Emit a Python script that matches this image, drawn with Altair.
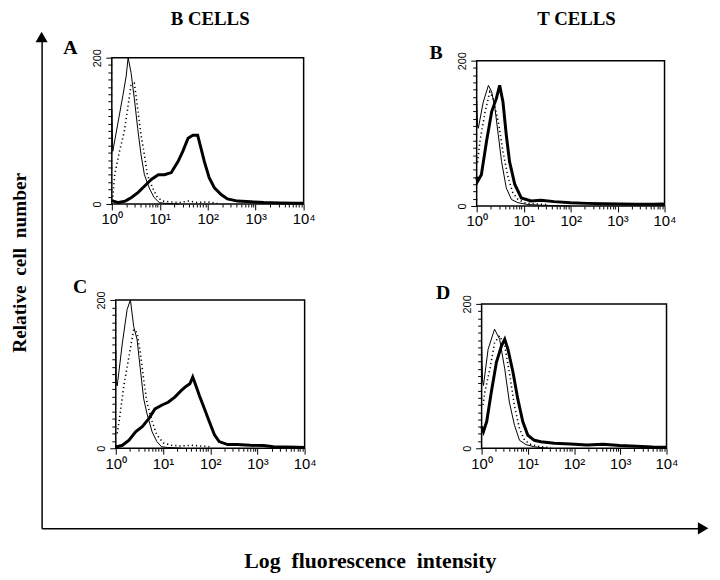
import altair as alt
import pandas as pd

# ---------------- data: x = log10 fluorescence, y = cell count ----------------
# Panel A (B cells)
A_thin_x = [0.0, 0.02, 0.12, 0.23, 0.30, 0.34, 0.40, 0.47, 0.54, 0.61, 0.68, 0.78, 0.88, 0.99, 1.10, 1.40]
A_thin_y = [128, 72, 108, 148, 175, 200, 180, 144, 103, 67, 40, 22, 9, 2, 1, 0]
A_dot_x = [0.02, 0.06, 0.16, 0.26, 0.33, 0.40, 0.47, 0.54, 0.61, 0.68, 0.74, 0.85, 0.95, 1.06, 1.20, 1.40, 1.60, 1.80, 2.00, 2.20]
A_dot_y = [10, 40, 72, 99, 130, 162, 165, 130, 94, 67, 40, 22, 9, 4, 3, 2, 4, 2, 3, 1]
A_thick_x = [0.0, 0.03, 0.14, 0.28, 0.41, 0.55, 0.69, 0.83, 0.97, 1.10, 1.24, 1.38, 1.48, 1.59, 1.69, 1.79, 1.86, 1.93, 2.03, 2.14, 2.28, 2.41, 2.62, 2.90, 3.17, 3.50, 3.86, 4.0]
A_thick_y = [5, 4, 2, 4, 9, 16, 25, 34, 40, 40, 43, 58, 72, 90, 94, 94, 76, 58, 36, 22, 13, 7, 4, 3, 2, 1.5, 1, 1]

# Panel B (T cells)
B_thin_x = [0.0, 0.02, 0.035, 0.14, 0.25, 0.32, 0.39, 0.46, 0.53, 0.63, 0.74, 0.88, 1.09, 1.40, 2.00]
B_thin_y = [145, 110, 107, 143, 166, 157, 134, 98, 61, 25, 9, 4.5, 2, 1, 0]
B_dot_x = [0.02, 0.07, 0.18, 0.28, 0.35, 0.46, 0.56, 0.67, 0.77, 0.88, 1.02, 1.20, 1.50]
B_dot_y = [60, 89, 130, 157, 148, 116, 75, 39, 18, 9, 4.5, 3, 2]
B_thick_x = [0.0, 0.02, 0.10, 0.21, 0.32, 0.42, 0.49, 0.56, 0.63, 0.70, 0.81, 0.95, 1.16, 1.37, 1.65, 2.00, 2.35, 2.70, 3.05, 3.40, 3.75, 3.96, 4.0]
B_thick_y = [40, 34, 43, 89, 130, 148, 166, 143, 98, 61, 30, 11, 7, 8, 6, 4.5, 3.6, 3, 2.7, 2.5, 2.3, 2.7, 2]

# Panel C (B cells)
C_thin_x = [0.0, 0.01, 0.03, 0.14, 0.24, 0.31, 0.38, 0.45, 0.52, 0.59, 0.66, 0.77, 0.87, 0.97, 1.10, 1.40]
C_thin_y = [133, 90, 84, 142, 187, 200, 164, 147, 107, 67, 47, 22, 9, 2, 1, 0]
C_dot_x = [0.03, 0.07, 0.17, 0.28, 0.38, 0.45, 0.52, 0.59, 0.66, 0.77, 0.87, 1.01, 1.18, 1.40, 1.60, 1.80, 2.00]
C_dot_y = [20, 36, 84, 124, 160, 156, 129, 93, 62, 36, 18, 7, 4, 3, 4, 3, 2]
C_thick_x = [0.0, 0.03, 0.14, 0.28, 0.42, 0.56, 0.70, 0.83, 0.97, 1.11, 1.25, 1.39, 1.50, 1.57, 1.63, 1.70, 1.77, 1.88, 1.98, 2.09, 2.19, 2.37, 2.57, 2.85, 3.13, 3.34, 3.83, 4.0]
C_thick_y = [3, 2, 4, 11, 22, 29, 40, 53, 58, 62, 69, 78, 84, 87, 96, 84, 71, 53, 36, 18, 9, 5, 5, 4, 3.6, 2, 1.3, 1]

# Panel D (T cells)
D_thin_x = [0.0, 0.02, 0.04, 0.14, 0.28, 0.39, 0.50, 0.60, 0.71, 0.82, 0.96, 1.14, 1.40]
D_thin_y = [142, 95, 87, 137, 165, 151, 110, 64, 32, 11, 5, 2, 0]
D_dot_x = [0.03, 0.07, 0.18, 0.28, 0.39, 0.50, 0.60, 0.71, 0.82, 0.93, 1.07, 1.28, 1.50]
D_dot_y = [60, 78, 110, 146, 156, 142, 105, 59, 27, 11, 5, 2, 1]
D_thick_x = [0.0, 0.04, 0.11, 0.21, 0.32, 0.43, 0.50, 0.57, 0.68, 0.78, 0.89, 1.00, 1.14, 1.28, 1.57, 1.92, 2.28, 2.63, 2.99, 3.35, 3.70, 4.0]
D_thick_y = [30, 23, 37, 78, 119, 142, 151, 137, 105, 69, 37, 18, 11, 9, 7, 6, 4.5, 5.5, 3.7, 2.7, 1.8, 1.5]

NB2 = "\u00a0\u00a0"
COL_TITLES = ["B CELLS", "T CELLS"]
PANEL_LETTERS = ["A", "B", "C", "D"]
X_TITLE = "Log" + NB2 + "fluorescence" + NB2 + "intensity"
Y_TITLE = "Relative" + NB2 + "cell" + NB2 + "number"

# ---------------- layout / style ----------------
W, H = 712, 572
SERIF = "Liberation Serif"
SANS = "Liberation Sans"

X_TICKS = [m * 10 ** k for k in range(4) for m in range(1, 10)] + [10000]
Y_TICKS = list(range(0, 201, 10))
DEC_LIST = "[1,10,100,1000,10000]"
DEC_TEST = f"indexof({DEC_LIST}, datum.value) >= 0"
X_LABEL_EXPR = (f"{DEC_TEST} ? '10' + ['\u2070','\u00b9','\u00b2','\u00b3','\u2074']"
                f"[indexof({DEC_LIST}, datum.value)] : ''")
Y_LABEL_EXPR = "datum.value == 0 || datum.value == 200 ? datum.label : ''"


def series_df(xs, ys):
    return pd.DataFrame({
        "order": list(range(len(xs))),
        "intensity": [10 ** e for e in xs],
        "count": ys,
    })


def panel(thin, dot, thick, x0, x1, ytop, ybot):
    X = alt.X(
        "intensity:Q",
        scale=alt.Scale(type="log", domain=[1, 10000], range=[x0, x1], nice=False),
        axis=alt.Axis(
            orient="bottom", offset=ybot - H, values=X_TICKS, labelExpr=X_LABEL_EXPR,
            tickSize={"condition": {"test": DEC_TEST, "value": 6}, "value": 3},
            tickColor="black", tickWidth=1, labelFlush=False, labelOverlap=False,
            domain=False, grid=False, title=None, labelFont=SANS, labelFontSize=15,
            labelColor="black", labelPadding=2,
        ),
    )
    Y = alt.Y(
        "count:Q",
        scale=alt.Scale(domain=[0, 200], range=[ybot, ytop], nice=False, zero=False),
        axis=alt.Axis(
            orient="left", offset=-x0, values=Y_TICKS, labelExpr=Y_LABEL_EXPR,
            labelAngle=-90, labelAlign="center", labelBaseline="bottom",
            tickSize={"condition": {"test": "datum.value == 0 || datum.value == 200", "value": 6}, "value": 4},
            tickColor="black", tickWidth=1, domain=False, grid=False, title=None,
            labelFont=SANS, labelFontSize=11, labelColor="black", labelPadding=3,
        ),
    )
    box = alt.Chart(pd.DataFrame({"intensity": [1], "intensity2": [10000], "count": [0], "count2": [200]})).mark_rect(
        filled=False, stroke="black", strokeWidth=1.5
    ).encode(x=X, x2="intensity2", y=Y, y2="count2")
    l_thin = alt.Chart(thin).mark_line(color="black", strokeWidth=1).encode(x=X, y=Y, order="order:Q")
    l_dot = alt.Chart(dot).mark_line(color="black", strokeWidth=1.6, strokeDash=[1.2, 3]).encode(
        x=X, y=Y, order="order:Q")
    l_thick = alt.Chart(thick).mark_line(color="black", strokeWidth=3).encode(x=X, y=Y, order="order:Q")
    return alt.layer(box, l_thin, l_dot, l_thick)


def text_mark(txt, x, y, size, baseline="middle"):
    return alt.Chart(alt.Data(values=[{"label": txt}])).mark_text(
        font=SERIF, fontWeight="bold", fontSize=size, color="black", align="center", baseline=baseline
    ).encode(text="label:N", x=alt.value(x), y=alt.value(y))


pA = panel(series_df(A_thin_x, A_thin_y), series_df(A_dot_x, A_dot_y), series_df(A_thick_x, A_thick_y),
           105, 299, 47, 195)
pB = panel(series_df(B_thin_x, B_thin_y), series_df(B_dot_x, B_dot_y), series_df(B_thick_x, B_thick_y),
           474, 664, 50, 197)
pC = panel(series_df(C_thin_x, C_thin_y), series_df(C_dot_x, C_dot_y), series_df(C_thick_x, C_thick_y),
           109, 300, 292, 442)
pD = panel(series_df(D_thin_x, D_thin_y), series_df(D_dot_x, D_dot_y), series_df(D_thick_x, D_thick_y),
           479, 666, 296, 442)

# big L-shaped arrow axes
frame_df = pd.DataFrame({"fx": [0.0, 1.0], "fy": [1.0, 0.0], "shape": ["triangle-up", "triangle-right"]})
FX = alt.X("fx:Q", scale=alt.Scale(domain=[0, 1], range=[34, 703], nice=False, zero=False),
           axis=alt.Axis(orient="bottom", offset=523 - H, ticks=False, labels=False, grid=False,
                         domain=True, domainColor="black", domainWidth=1.5,
                         title=X_TITLE, titleFont=SERIF, titleFontWeight="bold", titleFontSize=22,
                         titleColor="black", titleX=366, titleY=40, titleAlign="center",
                         titleBaseline="alphabetic", titleAngle=0))
FY = alt.Y("fy:Q", scale=alt.Scale(domain=[0, 1], range=[523, 26], nice=False, zero=False),
           axis=alt.Axis(orient="left", offset=-34, ticks=False, labels=False, grid=False,
                         domain=True, domainColor="black", domainWidth=1.5,
                         title=Y_TITLE, titleFont=SERIF, titleFontWeight="bold", titleFontSize=19.5,
                         titleColor="black", titleX=-16, titleY=254, titleAlign="center",
                         titleBaseline="alphabetic", titleAngle=-90))
frame = alt.Chart(frame_df).mark_point(filled=True, color="black", opacity=1, size=150).encode(
    x=FX, y=FY, shape=alt.Shape("shape:N", scale=None, legend=None))

texts = [
    text_mark(COL_TITLES[0], 204.5, 13.5, 19, "alphabetic"),
    text_mark(COL_TITLES[1], 575, 13.5, 19, "alphabetic"),
    text_mark(PANEL_LETTERS[0], 63, 37, 20),
    text_mark(PANEL_LETTERS[1], 433, 42, 20),
    text_mark(PANEL_LETTERS[2], 73, 279, 20),
    text_mark(PANEL_LETTERS[3], 440, 285, 20),
]

chart = alt.layer(frame, *texts, pA, pB, pC, pD).resolve_scale(
    x="independent", y="independent"
).properties(
    width=W, height=H, padding=0, autosize=alt.AutoSizeParams(type="none")
).configure_view(stroke=None)

chart.save("out.html", embed_options={"renderer": "svg", "actions": False})
